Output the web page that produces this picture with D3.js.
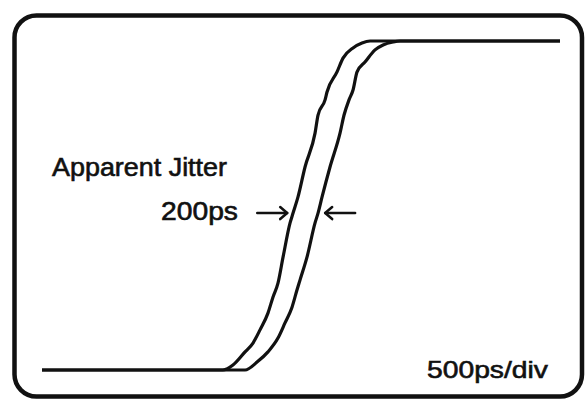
<!DOCTYPE html>
<html>
<head>
<meta charset="utf-8">
<script src="https://cdn.jsdelivr.net/npm/d3@7"></script>
<style>
  body { margin: 0; background: #fff; }
  text { font-family: "Liberation Sans", Arial, sans-serif; fill: #111; }
</style>
</head>
<body>
<div id="chart"></div>
<script>
// time in ps, level normalised 0..1
var edge1Time = [0, 1572, 1659, 1764, 1833, 1894, 1963, 2007, 2050, 2094, 2155, 2181, 2224, 2285, 2372, 2398, 2459, 2476, 2563, 2615, 2702, 2780, 2850, 4500];
var edge1Level = [0, 0, 0.015, 0.055, 0.082, 0.122, 0.173, 0.222, 0.264, 0.343, 0.447, 0.477, 0.526, 0.617, 0.720, 0.775, 0.821, 0.845, 0.906, 0.948, 0.979, 0.994, 1, 1];

var edge2Time = [0, 1764, 1868, 1963, 2050, 2111, 2172, 2215, 2242, 2302, 2372, 2398, 2433, 2502, 2589, 2624, 2667, 2702, 2737, 2806, 2893, 2963, 3050, 3111, 4500];
var edge2Level = [0, 0, 0.024, 0.055, 0.097, 0.143, 0.191, 0.243, 0.274, 0.343, 0.447, 0.477, 0.526, 0.617, 0.720, 0.775, 0.821, 0.851, 0.906, 0.936, 0.973, 0.988, 0.997, 1, 1];

// jitter markers: arrow tails and tips (ps) at the measured level
var jitterLevel = 0.477;
var arrowLeft = [1870, 2130];
var arrowRight = [2720, 2460];

var labels = ["Apparent Jitter", "200ps", "500ps/div"];

var svgWidth = 586;
var svgHeight = 400;

var svg = d3.select("#chart")
    .append("svg")
    .attr("width", svgWidth)
    .attr("height", svgHeight);

// screen frame
svg.append("rect")
    .attr("x", 14.5)
    .attr("y", 15.5)
    .attr("width", 567.5)
    .attr("height", 381)
    .attr("rx", 22)
    .attr("fill", "none")
    .attr("stroke", "#111")
    .attr("stroke-width", 4.5);

var x = d3.scaleLinear()
    .domain([0, 4500])
    .range([42, 560]);

var y = d3.scaleLinear()
    .domain([0, 1])
    .range([370, 41]);

var line = d3.line()
    .x(function(d) { return x(d[0]); })
    .y(function(d) { return y(d[1]); })
    .curve(d3.curveMonotoneX);

var traces = [d3.zip(edge1Time, edge1Level), d3.zip(edge2Time, edge2Level)];

svg.append("g")
    .selectAll("path")
    .data(traces)
    .enter()
    .append("path")
        .attr("d", line)
        .attr("fill", "none")
        .attr("stroke", "#111")
        .attr("stroke-width", 3.2)
        .attr("stroke-linejoin", "round");

// arrows
function arrow(pair) {
    var x0 = x(pair[0]), x1 = x(pair[1]), yy = y(jitterLevel);
    var dir = x1 > x0 ? -1 : 1;
    var g = svg.append("g")
        .attr("fill", "none")
        .attr("stroke", "#111")
        .attr("stroke-width", 2.5)
        .attr("stroke-linecap", "round")
        .attr("stroke-linejoin", "round");
    g.append("line")
        .attr("x1", x0).attr("y1", yy)
        .attr("x2", x1).attr("y2", yy);
    g.append("path")
        .attr("d", "M" + (x1 + dir * 7) + "," + (yy - 6) + "L" + x1 + "," + yy + "L" + (x1 + dir * 7) + "," + (yy + 6));
}
arrow(arrowLeft);
arrow(arrowRight);

svg.append("text")
    .attr("x", 52).attr("y", 176)
    .attr("font-size", 25)
    .attr("textLength", 175)
    .attr("lengthAdjust", "spacingAndGlyphs")
    .attr("stroke", "#111").attr("stroke-width", 0.6)
    .text(labels[0]);

svg.append("text")
    .attr("x", 161).attr("y", 220)
    .attr("font-size", 25)
    .attr("textLength", 77)
    .attr("lengthAdjust", "spacingAndGlyphs")
    .attr("stroke", "#111").attr("stroke-width", 0.6)
    .text(labels[1]);

svg.append("text")
    .attr("x", 427).attr("y", 378)
    .attr("font-size", 24)
    .attr("textLength", 121)
    .attr("lengthAdjust", "spacingAndGlyphs")
    .attr("stroke", "#111").attr("stroke-width", 0.6)
    .text(labels[2]);
</script>
</body>
</html>
